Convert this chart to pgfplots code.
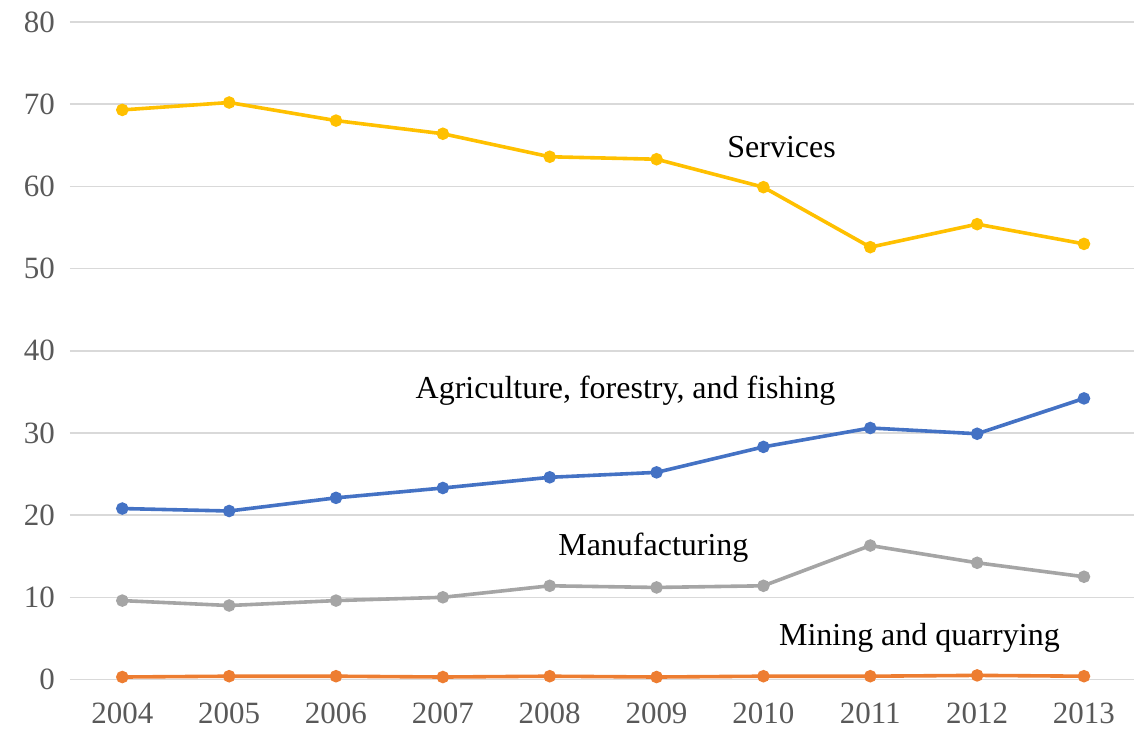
\documentclass[border=0pt]{standalone}
\usepackage{pgfplots}
\pgfplotsset{compat=1.18}
\usepackage{fontspec}
\setmainfont{Liberation Serif}
\definecolor{serv}{HTML}{FFC000}
\definecolor{agri}{HTML}{4472C4}
\definecolor{manu}{HTML}{A5A5A5}
\definecolor{mine}{HTML}{ED7D31}
\definecolor{gridc}{HTML}{D9D9D9}
\definecolor{tickc}{HTML}{595959}
\begin{document}
\begin{tikzpicture}
\begin{axis}[
  name=ax,
  scale only axis,
  width=532.5pt, height=329pt,
  xmin=2003.51, xmax=2013.47,
  ymin=0, ymax=80,
  ytick={0,10,...,80},
  xtick={2004,...,2013},
  axis line style={draw=none},
  major tick length=0pt,
  ymajorgrids, xmajorgrids=false,
  grid style={draw=gridc, line width=0.8pt},
  tick label style={font=\fontsize{15.5}{16}\selectfont, text=tickc},
  /pgf/number format/assume math mode=true,
  xticklabel style={/pgf/number format/1000 sep={}, yshift=-8pt},
  yticklabel style={xshift=-4pt},
  scaled ticks=false,
  clip=false,
  every axis plot/.append style={line width=1.8pt, mark=*, mark size=2.2pt},
]
\addplot[color=serv, mark options={fill=serv}] coordinates {
(2004,69.3) (2005,70.2) (2006,68.0) (2007,66.4) (2008,63.6) (2009,63.3) (2010,59.9) (2011,52.6) (2012,55.4) (2013,53.0)};
\addplot[color=agri, mark options={fill=agri}] coordinates {
(2004,20.8) (2005,20.5) (2006,22.1) (2007,23.3) (2008,24.6) (2009,25.2) (2010,28.3) (2011,30.6) (2012,29.9) (2013,34.2)};
\addplot[color=manu, mark options={fill=manu}] coordinates {
(2004,9.6) (2005,9.0) (2006,9.6) (2007,10.0) (2008,11.4) (2009,11.2) (2010,11.4) (2011,16.3) (2012,14.2) (2013,12.5)};
\addplot[color=mine, mark options={fill=mine}] coordinates {
(2004,0.3) (2005,0.4) (2006,0.4) (2007,0.3) (2008,0.4) (2009,0.3) (2010,0.4) (2011,0.4) (2012,0.5) (2013,0.4)};
\node[font=\fontsize{16}{17}\selectfont] at (axis cs:2010.17,64.8) {Services};
\node[font=\fontsize{16}{17}\selectfont] at (axis cs:2008.71,35.1) {Agriculture, forestry, and fishing};
\node[font=\fontsize{16}{17}\selectfont] at (axis cs:2008.97,16.0) {Manufacturing};
\node[font=\fontsize{16}{17}\selectfont] at (axis cs:2011.46,5.1) {Mining and quarrying};
\end{axis}
\path[use as bounding box] ([xshift=-35pt,yshift=-29pt]ax.south west) rectangle ([yshift=11pt]ax.north east);
\end{tikzpicture}
\end{document}
